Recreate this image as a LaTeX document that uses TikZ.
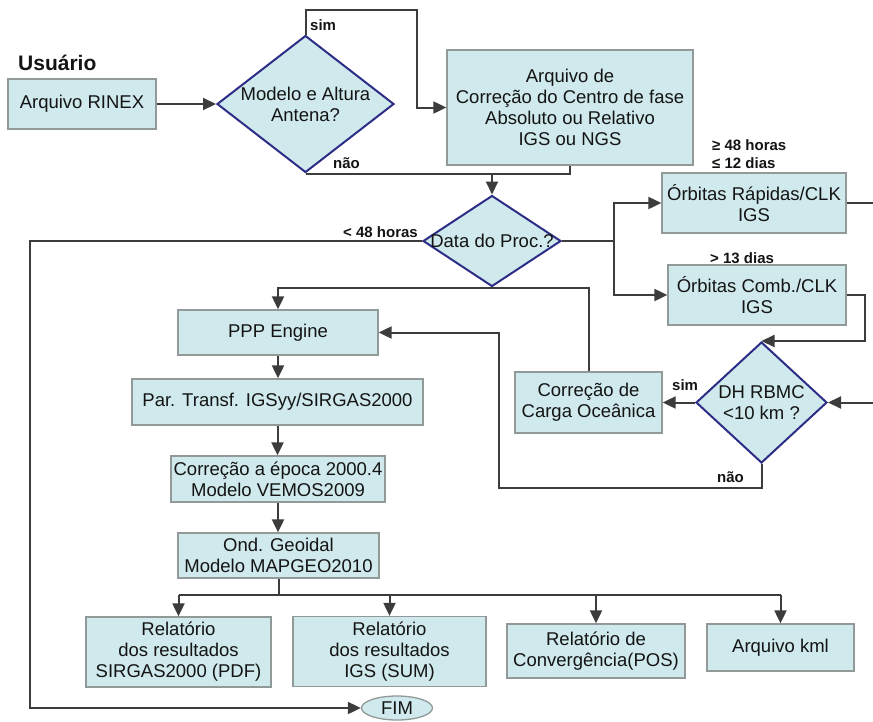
\documentclass[tikz,border=0pt]{standalone}
\usepackage{fontspec}
\setmainfont{Liberation Sans}
\usetikzlibrary{calc,arrows.meta,shapes.geometric}
\definecolor{caixaazul}{RGB}{207,233,236}
\definecolor{bordacinza}{RGB}{145,153,153}
\definecolor{bordaazul}{RGB}{45,45,135}
\definecolor{linha}{RGB}{60,60,60}
\definecolor{texto}{RGB}{20,20,20}
\tikzset{
	caixa/.style={draw=bordacinza, line width=1.3pt, fill=caixaazul, text=texto, inner sep=0pt, align=center, font=\fontsize{18.5}{21}\selectfont},
	decisao/.style={diamond, draw=bordaazul, line width=2pt, fill=caixaazul, inner sep=0pt},
	textodec/.style={text=texto, inner sep=0pt, align=center, font=\fontsize{18.5}{21}\selectfont},
	rotulo/.style={text=texto, inner sep=0pt, font=\bfseries\fontsize{15}{17}\selectfont},
	liga/.style={draw=linha, line width=2pt},
	seta/.style={liga, -{Triangle[length=13pt,width=12pt]}},
}

\begin{document}
\begin{tikzpicture}[x=1pt, y=-1pt]
			%%%%% START %%%%%
			\useasboundingbox (0,0) rectangle (873,721);
			
			\node[rotulo, anchor=west, font=\bfseries\fontsize{21}{24}\selectfont] (usuario) at (18,63) {Usuário};
			\node[caixa, minimum width=148, minimum height=50] (rinex) at (82,104) {Arquivo RINEX};
			\node[decisao, minimum width=177, minimum height=137, label={[textodec]center:Modelo e Altura\\Antena?}] (modelo) at (305.5,104) {};
			\node[caixa, minimum width=246, minimum height=115] (arq) at (570,107.5) {Arquivo de\\Correção do Centro de fase\\Absoluto ou Relativo\\IGS ou NGS};
			
			\node[decisao, minimum width=138, minimum height=91, label={[textodec]center:Data do Proc.?}] (data) at (492,241) {};
			\node[caixa, minimum width=184, minimum height=60] (rapidas) at (754,203) {Órbitas Rápidas/CLK\\IGS};
			\node[caixa, minimum width=178, minimum height=60] (comb) at (757,295) {Órbitas Comb./CLK\\IGS};
			\node[decisao, minimum width=131, minimum height=121, label={[textodec]center:DH RBMC\\<10 km ?}] (dh) at (761.5,402.5) {};
			\node[caixa, minimum width=147, minimum height=61] (carga) at (588.5,402.5) {Correção de\\Carga Oceânica};
			
			\node[caixa, minimum width=200, minimum height=45] (ppp) at (278,332.5) {PPP Engine};
			\node[caixa, minimum width=291, minimum height=46] (par) at (277.5,402) {Par. Transf. IGSyy/SIRGAS2000};
			\node[caixa, minimum width=214, minimum height=46] (epoca) at (278,479) {Correção a época 2000.4\\Modelo VEMOS2009};
			\node[caixa, minimum width=201, minimum height=45] (ond) at (278.5,555.5) {Ond. Geoidal\\Modelo MAPGEO2010};
			
			\node[caixa, minimum width=185, minimum height=70] (rel1) at (178.5,652) {Relatório\\dos resultados\\SIRGAS2000 (PDF)};
			\node[caixa, minimum width=193, minimum height=70] (rel2) at (389.5,651.5) {Relatório\\dos resultados\\IGS (SUM)};
			\node[caixa, minimum width=178, minimum height=54] (rel3) at (596,651) {Relatório de\\Convergência(POS)};
			\node[caixa, minimum width=147, minimum height=47] (kml) at (780.5,647.5) {Arquivo kml};
			\node[caixa, ellipse, minimum width=71, minimum height=24] (fim) at (397,708) {FIM};
			
			\node[rotulo, anchor=west] (simA) at (310,25) {sim};
			\node[rotulo, anchor=west] (naoA) at (333,163) {não};
			\node[rotulo, anchor=east] (menos48) at (418,232) {< 48 horas};
			\node[rotulo, anchor=west] (mais48) at (712,145) {≥ 48 horas};
			\node[rotulo, anchor=west] (ate12) at (712,163) {≤ 12 dias};
			\node[rotulo, anchor=west] (mais13) at (710,258) {> 13 dias};
			\node[rotulo, anchor=west] (simB) at (672,385) {sim};
			\node[rotulo, anchor=west] (naoB) at (717,477) {não};
			
			\coordinate (juncao) at (data.north |- modelo.south);
			\coordinate (saida) at (873,203);
			\coordinate (entrada) at (873,402.5);
			\coordinate (esquerda) at (30,708);
			\coordinate (ramo) at ($(ond.south)+(0,16)$);
			
			\draw[seta] (rinex.east) -- (modelo.west);
			\draw[seta] (modelo.north) -- ++(0,-25) -| ($(arq.west)+(-29,0)$) -- (arq.west);
			\draw[liga] (modelo.south) -- (juncao);
			\draw[seta] (arq.south) |- (juncao) -- (data.north);
			
			\draw[seta] (data.east) -- ++(52,0) |- (rapidas.west);
			\draw[seta] (data.east) -- ++(52,0) |- (comb.west);
			\draw[liga] (rapidas.east) -- (saida);
			\draw[seta] (comb.east) -- ++(18,0) |- (dh.north);
			\draw[seta] (entrada) -- (dh.east);
			\draw[seta] (dh.west) -- (carga.east);
			\draw[seta] (dh.south) -- ++(0,24) -| ($(ppp.east)+(120,0)$) -- (ppp.east);
			\draw[seta] (carga.north) |- (data.south -| ppp.north) -- (ppp.north);
			\draw[seta] (data.west) -| (esquerda) -- (fim.west);
			
			\foreach \a/\b in {ppp/par, par/epoca, epoca/ond}
				\draw[seta] (\a.south) -- (\a.south |- \b.north);
			
			\draw[liga] (ond.south) -- (ramo);
			\draw[liga] (ramo -| rel1.north) -- (ramo -| kml.north);
			\foreach \r in {rel1,rel2,rel3,kml}
				\draw[seta] (ramo -| \r.north) -- (\r.north);
			
			%%%%% END %%%%%
\end{tikzpicture}
\end{document}
